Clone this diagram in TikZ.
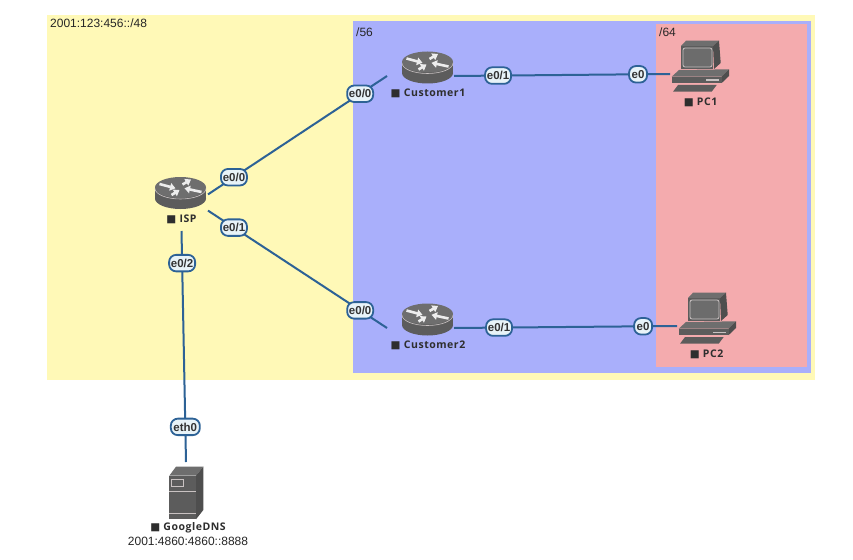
\documentclass[tikz,border=0pt]{standalone}
\usepackage{fontspec}
\setmainfont{Liberation Sans}
\newfontfamily\devfont[LetterSpace=5]{Open Sans}
\newfontfamily\symfont{DejaVu Sans}
\usetikzlibrary{arrows.meta}
\definecolor{zoneA}{HTML}{FFF9B7}
\definecolor{zoneB}{HTML}{A9AFFB}
\definecolor{zoneC}{HTML}{F4ABAE}
\definecolor{wire}{HTML}{2D6296}
\definecolor{portfill}{HTML}{E8F3F8}
\definecolor{iconbody}{HTML}{5C5C5C}
\definecolor{icontop}{HTML}{6E6E6E}
\definecolor{iconside}{HTML}{4E4E4E}
\definecolor{iconrim}{HTML}{C9C2C2}
\tikzset{
  zonebox/.style={draw=none,inner sep=0pt,outer sep=0pt},
  zonetext/.style={font=\fontsize{12}{14}\selectfont,anchor=west,inner sep=0pt,text=black!85},
  devicebox/.style={inner sep=0pt,outer sep=0pt,draw=none},
  devicetext/.style={font=\devfont\bfseries\fontsize{10.5}{12}\selectfont,text=black!82,inner sep=0pt},
  wireline/.style={draw=wire,line width=2pt},
  portlabel/.style={draw=wire,line width=1.8pt,fill=portfill,rounded corners=7pt,inner sep=0pt,
    minimum height=16.5pt,font=\fontsize{11.5}{12}\selectfont\bfseries,text=black!80},
  whitearrow/.style={draw=white!93!black,line width=2.6pt,-{Triangle[length=5.5pt,width=7.5pt]}},
  pics/routericon/.style={code={
    % drum body, top face and the pale seam between them
    \fill[iconbody] (0,11) ellipse[x radius=25.5,y radius=10.5];
    \fill[iconbody] (-25.5,0) rectangle (25.5,11);
    \fill[icontop] (0,0) ellipse[x radius=25.5,y radius=10.5];
    \draw[iconrim,line width=.6pt] (-25.5,1) arc[x radius=25.5,y radius=10.5,start angle=180,end angle=0];
    % traffic arrows on the top face
    \draw[whitearrow] (-21,-3.5) -- (-5,.8);
    \draw[whitearrow] (2,-3) -- (10.5,-8);
    \draw[whitearrow] (-9,7.5) -- (-1,2.5);
    \draw[whitearrow] (21,4.5) -- (4,.8);
  }},
  pics/pcicon/.style={code={
    % monitor
    \fill[icontop] (11,6) -- (16,.7) -- (49,.7) -- (43,6) -- cycle;
    \fill[iconside] (43,6) -- (49,.7) -- (50.7,23) -- (44,29) -- cycle;
    \fill[iconbody] (11,6) rectangle (43,29);
    \draw[iconrim,line width=.8pt,rounded corners=2pt,fill=iconbody!90] (13,8) rectangle (42,27);
    % system unit
    \fill[icontop] (1.7,36.7) -- (9,30) -- (59,29.3) -- (51.7,36.7) -- cycle;
    \fill[iconside] (59,29.3) -- (59,36) -- (51.7,43) -- (51.7,36.7) -- cycle;
    \fill[iconbody] (1.7,36.7) rectangle (51.7,43);
    \fill[iconrim] (36,39.5) rectangle (48.7,41.3);
    % keyboard
    \fill[iconbody] (3,51.7) -- (8,45) -- (46.7,45) -- (41.7,51.7) -- cycle;
  }},
  pics/servericon/.style={code={
    \fill[icontop] (0,9) -- (6.7,0) -- (34,0) -- (26.7,9) -- cycle;
    \fill[iconside] (26.7,9) -- (34,0) -- (34,43.3) -- (26.7,52.6) -- cycle;
    \fill[iconbody] (0,9) rectangle (26.7,52.6);
    \draw[iconrim,line width=.7pt] (2.4,12.3) rectangle (14,19.3);
    \draw[iconrim,line width=.7pt] (0,25) -- (26.7,25);
    \draw[iconrim,line width=.7pt] (0,46.3) -- (26.7,46.3);
  }}
}
\begin{document}
\begin{tikzpicture}[x=1pt,y=-1pt]
\useasboundingbox (0,0) rectangle (853,559);
\fill[white] (0,0) rectangle (853,559);

% address zones
\path[zonebox,fill=zoneA] (47,15) rectangle (815,380);
\path[zonebox,fill=zoneB] (353,21) rectangle (811,373);
\path[zonebox,fill=zoneC] (656,24) rectangle (807,367);
\node[zonetext] (prefixA) at (50,23) {2001:123:456::/48};
\node[zonetext] (prefixB) at (356,32) {/56};
\node[zonetext] (prefixC) at (659,32) {/64};

% device footprints that the links attach to
\node[devicebox,minimum width=53pt,minimum height=56pt] (isp) at (181.5,203) {};
\node[devicebox,minimum width=67pt,minimum height=48pt] (custA) at (420.5,76) {};
\node[devicebox,minimum width=67pt,minimum height=48pt] (custB) at (420.5,328) {};
\node[devicebox,minimum width=60pt,minimum height=68pt] (pcA) at (700,74) {};
\node[devicebox,minimum width=60pt,minimum height=68pt] (pcB) at (707,326) {};
\node[devicebox,minimum width=120pt,minimum height=86pt] (dns) at (186,505) {};

% links with their interface names
\draw[wireline] (isp.18) -- node[portlabel,pos=.145,minimum width=26pt] (ispE0) {e0/0}
  node[portlabel,pos=.85,minimum width=26pt] (custAE0) {e0/0} (custA.west);
\draw[wireline] (isp.-16.5) -- node[portlabel,pos=.145,minimum width=26pt] (ispE1) {e0/1}
  node[portlabel,pos=.85,minimum width=26pt] (custBE0) {e0/0} (custB.west);
\draw[wireline] (custA.east) -- node[portlabel,pos=.204,minimum width=26pt] (custAE1) {e0/1}
  node[portlabel,pos=.852,minimum width=18pt] (pcAE0) {e0} (pcA.west);
\draw[wireline] (custB.east) -- node[portlabel,pos=.202,minimum width=26pt] (custBE1) {e0/1}
  node[portlabel,pos=.848,minimum width=18pt] (pcBE0) {e0} (pcB.west);
\draw[wireline] (isp.south) -- node[portlabel,pos=.139,minimum width=26pt] (ispE2) {e0/2}
  node[portlabel,pos=.848,minimum width=29pt] (dnsE0) {eth0} (dns.north);

% device icons
\pic at (180.5,187.5) {routericon};
\pic at (427.5,62) {routericon};
\pic at (427.5,314) {routericon};
\pic at (670,40) {pcicon};
\pic at (677,292) {pcicon};
\pic at (169.3,466.7) {servericon};

% device names
\node[devicetext] (ispName) at (181.5,219) {{\symfont■}\ ISP};
\node[devicetext] (custAName) at (428,93) {{\symfont■}\ Customer1};
\node[devicetext] (custBName) at (428,345) {{\symfont■}\ Customer2};
\node[devicetext] (pcAName) at (700.5,102) {{\symfont■}\ PC1};
\node[devicetext] (pcBName) at (706.5,354) {{\symfont■}\ PC2};
\node[devicetext] (dnsName) at (188,528) {{\symfont■}\ GoogleDNS};
\node[font=\fontsize{12}{14}\selectfont,inner sep=0pt,text=black!85] (dnsAddr) at (188,541) {2001:4860:4860::8888};
\end{tikzpicture}
\end{document}
